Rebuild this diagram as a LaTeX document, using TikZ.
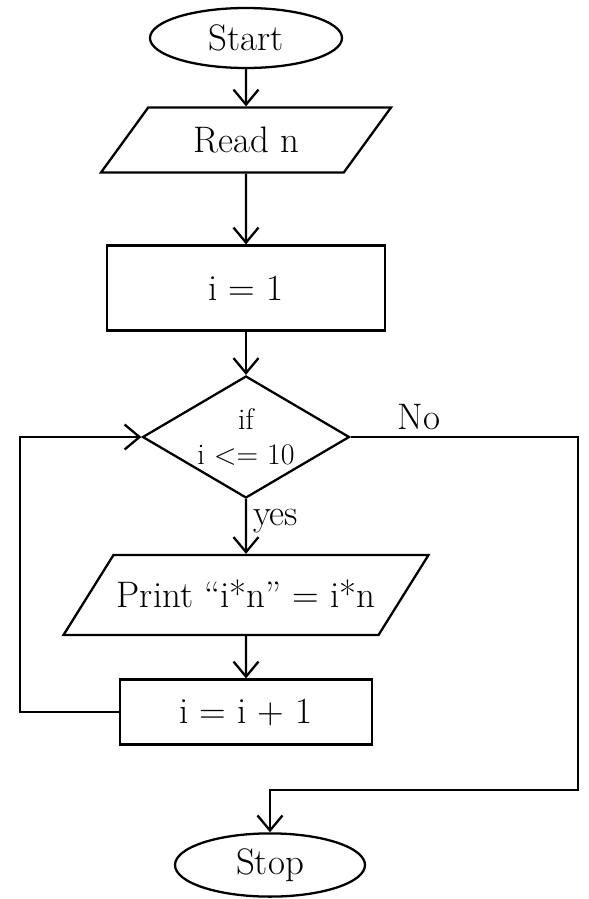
\documentclass[tikz,border=0pt]{standalone}
\usepackage{tikz}
\usetikzlibrary{shapes.geometric, arrows.meta, positioning}

\begin{document}
\begin{tikzpicture}[node distance=2cm, on grid, line width=1.3pt,
        >={Straight Barb[length=3mm, width=5mm]},
        font=\fontsize{21}{25}\selectfont,
        term/.style={ellipse, draw, minimum width=3.84cm, minimum height=1.2cm},
        io/.style={trapezium, draw, trapezium stretches body=true, inner xsep=0pt,
            inner ysep=0.4cm, text height=0.5cm, text depth=0cm,
            trapezium left angle=54, trapezium right angle=126},
        proc/.style={rectangle, draw, minimum height=1.3cm},
        cond/.style={diamond, draw, aspect=1.7, inner sep=0pt, align=center,
            font=\fontsize{17}{20}\selectfont}]
        \useasboundingbox (-4.92,0.76) rectangle (6.86,-17.22);

        \node[term] (start) {Start};
        \node[io, minimum width=5.8cm] (read) [below=2.04 of start] {Read n};
        \node[proc, minimum width=5.56cm, minimum height=1.7cm] (init) [below=2.96 of read] {i = 1};
        \node[cond, minimum width=4.14cm, minimum height=2.44cm] (test) [below=2.98 of init] {if\\ i <= 10};
        \node[io, minimum width=7.3cm, inner ysep=0.55cm,
            trapezium left angle=58, trapezium right angle=122] (print) [below=3.16 of test] {Print “i*n” = i*n};
        \node[proc, minimum width=5.04cm] (inc) [below=2.34 of print] {i = i + 1};
        \node[term, minimum width=3.8cm] (stop) [below=3.06 of inc, xshift=0.48cm] {Stop};

        \coordinate[left=4.52 of inc] (back);
        \coordinate[below right=7.06 and 6.64 of test] (turn);

        \path[->]
        (start) edge (read)
        (read) edge (init)
        (init) edge (test)
        (test) edge node[right, pos=0.4] {yes} (print)
        (print) edge (inc);

        % loop back and exit
        \draw[->] (inc.west) -- (back) |- (test.west);
        \draw[->] (test.east) -| node[pos=0.15, above] {No} (turn) -| (stop.north);

    \end{tikzpicture}
\end{document}
